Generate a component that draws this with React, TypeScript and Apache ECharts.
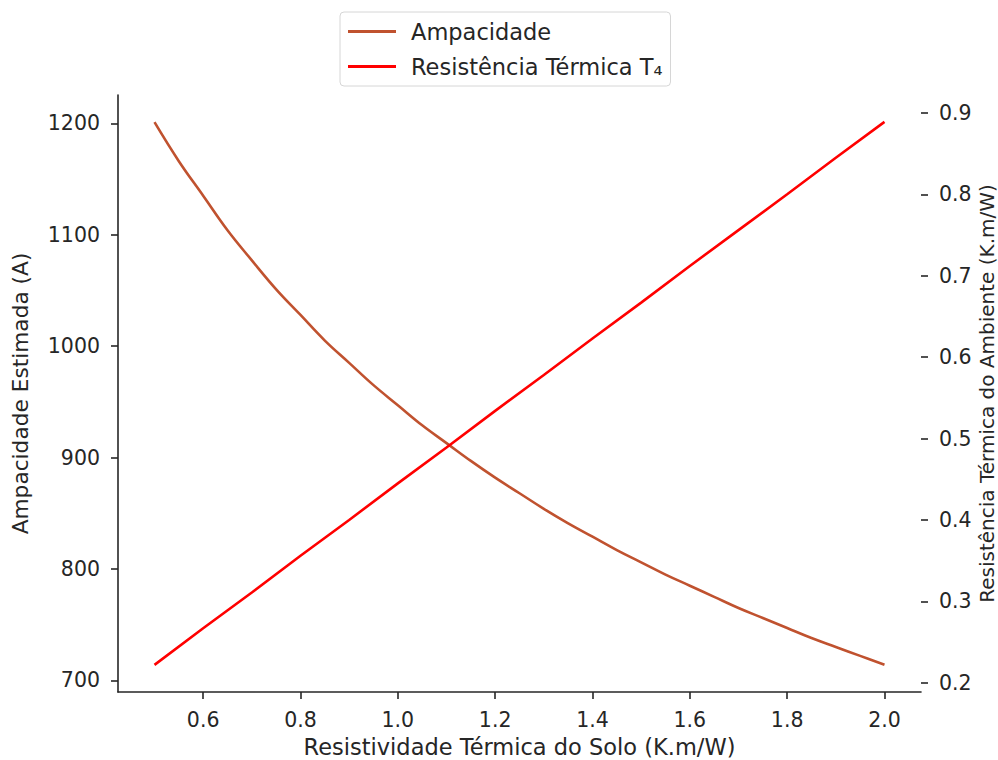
import React, { useEffect, useRef } from "react";
import * as echarts from "echarts";

const rho = [0.5, 0.55, 0.6, 0.65, 0.7, 0.75, 0.8, 0.85, 0.9, 0.95, 1.0, 1.05, 1.1, 1.15, 1.2, 1.25, 1.3, 1.35, 1.4, 1.45, 1.5, 1.55, 1.6, 1.65, 1.7, 1.75, 1.8, 1.85, 1.9, 1.95, 2.0];
const ampacidade = [1201, 1166, 1135, 1104, 1077, 1051, 1028, 1005, 985, 965, 947, 929, 913, 897, 882, 868, 854, 841, 829, 817, 806, 795, 785, 775, 765, 756, 747, 738, 730, 722, 714];
const rhoT4 = [0.5, 0.6, 0.7, 0.8, 0.9, 1.0, 1.1, 1.2, 1.3, 1.4, 1.5, 1.6, 1.7, 1.8, 1.9, 2.0];
const resistencia = [0.222, 0.267, 0.311, 0.356, 0.4, 0.445, 0.489, 0.534, 0.578, 0.623, 0.667, 0.712, 0.756, 0.8, 0.845, 0.889];
const xTicks = [0.6, 0.8, 1.0, 1.2, 1.4, 1.6, 1.8, 2.0];
const leftTicks = [700, 800, 900, 1000, 1100, 1200];
const rightTicks = [0.2, 0.3, 0.4, 0.5, 0.6, 0.7, 0.8, 0.9];

const FONT = "DejaVu Sans";
const TXT = "#262626";
const TICK_FS = 20.5;
const NAME_FS = 22.5;

export default function App() {
  const ref = useRef<HTMLDivElement>(null);
  useEffect(() => {
    if (!ref.current) return;
    const chart = echarts.init(ref.current, null, { renderer: "svg" });
    chart.setOption({
      animation: false,
      backgroundColor: "#ffffff",
      textStyle: { fontFamily: FONT },
      grid: { left: 118, right: 77, top: 95, bottom: 68, containLabel: false, outerBoundsMode: "none" },
      legend: {
        top: 12,
        left: 340,
        orient: "vertical",
        backgroundColor: "#ffffff",
        borderColor: "#d6d6d6",
        borderWidth: 1,
        borderRadius: 4,
        padding: [8, 8, 8, 8],
        itemWidth: 48,
        itemHeight: 3,
        itemGap: 12,
        icon: "rect",
        textStyle: { fontFamily: FONT, fontSize: NAME_FS, color: TXT, lineHeight: 23, padding: [0, 0, 0, 10] },
        data: ["Ampacidade", "Resistência Térmica T₄"],
      },
      xAxis: {
        type: "value",
        min: 0.425,
        max: 2.075,
        name: "Resistividade Térmica do Solo (K.m/W)",
        nameLocation: "middle",
        nameGap: 44,
        nameMoveOverlap: false,
        nameTextStyle: { fontFamily: FONT, fontSize: NAME_FS, color: TXT, lineHeight: 22 },
        splitLine: { show: false },
        axisLine: { show: true, onZero: false, lineStyle: { color: "#262626", width: 1.6 } },
        axisTick: { show: true, length: 7, customValues: xTicks, lineStyle: { color: "#262626", width: 1.6 } },
        axisLabel: {
          customValues: xTicks,
          fontFamily: FONT,
          fontSize: TICK_FS,
          color: TXT,
          margin: 17,
          formatter: (v: number) => v.toFixed(1),
        },
      },
      yAxis: [
        {
          type: "value",
          position: "left",
          min: 689.6,
          max: 1225.4,
          name: "Ampacidade Estimada (A)",
          nameLocation: "middle",
          nameGap: 87,
          nameMoveOverlap: false,
          nameRotate: 90,
          nameTextStyle: { fontFamily: FONT, fontSize: 21.7, color: TXT },
          splitLine: { show: false },
          axisLine: { show: true, lineStyle: { color: "#262626", width: 1.6 } },
          axisTick: { show: true, length: 7, customValues: leftTicks, lineStyle: { color: "#262626", width: 1.6 } },
          axisLabel: {
            customValues: leftTicks,
            fontFamily: FONT,
            fontSize: TICK_FS,
            color: TXT,
            margin: 18,
            formatter: (v: number) => String(Math.round(v)),
          },
        },
        {
          type: "value",
          position: "right",
          min: 0.1887,
          max: 0.922,
          name: "Resistência Térmica do Ambiente (K.m/W)",
          nameLocation: "middle",
          nameGap: 56,
          nameMoveOverlap: false,
          nameRotate: 90,
          nameTextStyle: { fontFamily: FONT, fontSize: 20, color: TXT, lineHeight: 20 },
          splitLine: { show: false },
          axisLine: { show: false, lineStyle: { color: "#262626", width: 1.6 } },
          axisTick: { show: true, length: 7, customValues: rightTicks, lineStyle: { color: "#262626", width: 1.6 } },
          axisLabel: {
            customValues: rightTicks,
            fontFamily: FONT,
            fontSize: TICK_FS,
            color: TXT,
            margin: 18,
            formatter: (v: number) => v.toFixed(1),
          },
        },
      ],
      series: [
        {
          name: "Ampacidade",
          type: "line",
          yAxisIndex: 0,
          data: rho.map((x, i) => [x, ampacidade[i]]),
          smooth: 0.4,
          symbol: "none",
          lineStyle: { color: "#C0522F", width: 2.6 },
          itemStyle: { color: "#C0522F" },
        },
        {
          name: "Resistência Térmica T₄",
          type: "line",
          yAxisIndex: 1,
          data: rhoT4.map((x, i) => [x, resistencia[i]]),
          symbol: "none",
          lineStyle: { color: "#FF0000", width: 2.6 },
          itemStyle: { color: "#FF0000" },
        },
      ],
    });
    return () => chart.dispose();
  }, []);
  return (
    <div
      ref={ref}
      style={{ position: "absolute", left: 0, top: 0, width: 998, height: 760, background: "#fff" }}
    />
  );
}
